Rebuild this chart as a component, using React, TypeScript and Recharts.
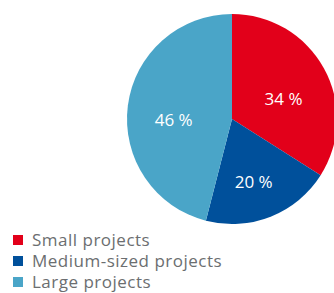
import { PieChart, Pie, Cell, Legend } from "recharts";

const CATEGORIES = ["Small projects", "Medium-sized projects", "Large projects"];
const SHARES = [34, 20, 46];
const COLORS = ["#e2001a", "#00509b", "#4aa5c8"];

const data = CATEGORIES.map((name, i) => ({ name, value: SHARES[i] }));

const RAD = Math.PI / 180;
const FONT = "'Open Sans', sans-serif";

const renderLabel = (props: any) => {
  const { cx, cy, midAngle, outerRadius, value } = props;
  const r = outerRadius * 0.56;
  const x = cx + r * Math.cos(-midAngle * RAD);
  const y = cy + r * Math.sin(-midAngle * RAD) + 8;
  return (
    <text
      x={x}
      y={y}
      fill="#fff"
      textAnchor="middle"
      dominantBaseline="central"
      fontSize={17}
      fontFamily={FONT}
    >
      {`${value} %`}
    </text>
  );
};

const LegendBox = () => (
  <div
    style={{
      fontFamily: FONT,
      fontSize: 17,
      letterSpacing: 0.5,
      color: "#6b6e70",
      lineHeight: "21px",
    }}
  >
    {CATEGORIES.map((c, i) => (
      <div key={c} style={{ display: "flex", alignItems: "center", height: 21 }}>
        <span
          style={{ width: 10, height: 10, background: COLORS[i], display: "inline-block", marginRight: 9 }}
        />
        {c}
      </div>
    ))}
  </div>
);

export default function App() {
  return (
    <div style={{ position: "absolute", left: 0, top: 0, background: "#fff" }}>
      <PieChart width={334} height={293} margin={{ top: 0, right: 0, bottom: 0, left: 0 }}>
        <Pie
          data={data}
          dataKey="value"
          cx={232}
          cy={119}
          outerRadius={105}
          startAngle={90}
          endAngle={-270}
          stroke="none"
          label={renderLabel}
          labelLine={false}
          isAnimationActive={false}
        >
          {data.map((d, i) => (
            <Cell key={d.name} fill={COLORS[i]} />
          ))}
        </Pie>
        <Legend
          content={<LegendBox />}
          wrapperStyle={{ position: "absolute", left: 13, top: 229, width: 300 }}
        />
      </PieChart>
    </div>
  );
}
